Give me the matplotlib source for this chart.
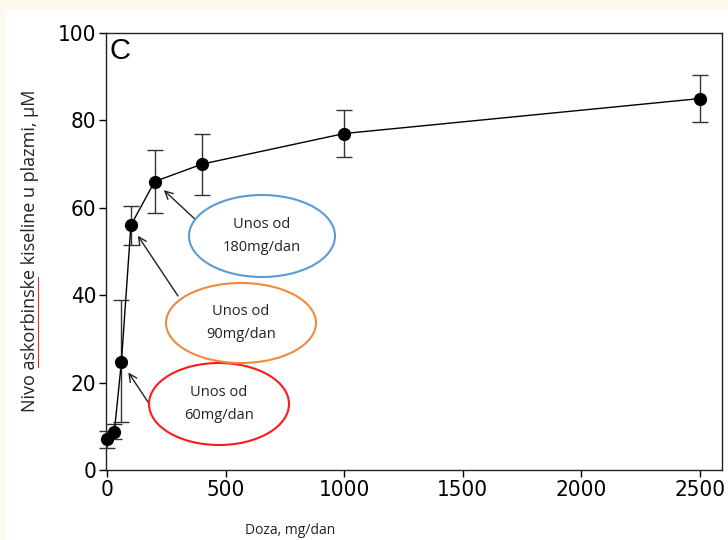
import numpy as np
import matplotlib.pyplot as plt
from matplotlib.patches import Ellipse, Rectangle
from matplotlib.lines import Line2D
from matplotlib import font_manager

# doza (mg/dan) i nivo askorbinske kiseline (uM)
doza = [0, 30, 60, 100, 200, 400, 1000, 2500]
nivo = [7, 8.7, 24.7, 56, 66, 70, 77, 85]
err_gore = [2.0, 1.8, 14.3, 4.4, 7.2, 7.0, 5.4, 5.4]
err_dole = [2.0, 1.5, 13.7, 4.5, 7.2, 7.0, 5.4, 5.4]

xticks = [0, 500, 1000, 1500, 2000, 2500]
yticks = [0, 20, 40, 60, 80, 100]

labele = ['Unos od\n60mg/dan', 'Unos od\n90mg/dan', 'Unos od\n180mg/dan']
boje = ['#ff1a1a', '#ee8a3c', '#5b9bd5']

# uski font za brojeve ako postoji
uski = None
for f in font_manager.fontManager.ttflist:
    n = f.fname.lower()
    if ('narrow' in n or 'condensed' in n) and 'bold' not in n and 'oblique' not in n \
            and 'italic' not in n and ('liberation' in n or 'dejavusans' in n or 'roboto' in n):
        uski = f.fname
        break
print('uski font:', uski)

fig = plt.figure(figsize=(7.28, 5.4), dpi=100, facecolor='#fdf8ec')
# bijela podloga
fig.patches.append(Rectangle((5 / 728, 0), 1, 530 / 540, transform=fig.transFigure,
                             facecolor='white', edgecolor='none', zorder=-5))

ax = fig.add_axes([106 / 728, 70 / 540, 616 / 728, 437 / 540])
ax.set_facecolor('white')

ax.errorbar(doza, nivo, yerr=[err_dole, err_gore], fmt='o-', color='black',
            markersize=8.5, linewidth=1, elinewidth=1, capsize=6, capthick=1,
            ecolor='#333333', clip_on=False, zorder=3)

ax.set_xlim(-5, 2593)
ax.set_ylim(0, 100)
ax.set_xticks(xticks)
ax.set_yticks(yticks)
ax.tick_params(direction='out', length=5, width=1, pad=2, top=False, right=False)
if uski:
    fp = font_manager.FontProperties(fname=uski, size=16)
else:
    fp = font_manager.FontProperties(family='Liberation Sans', size=15)
for lab in ax.get_xticklabels() + ax.get_yticklabels():
    lab.set_fontproperties(fp)
for s in ax.spines.values():
    s.set_linewidth(1)
    s.set_color('#222222')

ax.text(0.005, 0.99, 'C', transform=ax.transAxes, fontsize=21,
        family='Liberation Sans', va='top', ha='left')

fig.text(290 / 728, 1 - 530 / 540, 'Doza, mg/dan', ha='center', va='center',
         fontsize=10, family='Open Sans', color='#222222')
fig.text(30 / 728, 1 - 251 / 540, 'Nivo askorbinske kiseline u plazmi, \u00b5M',
         rotation=90, ha='center', va='center', fontsize=13,
         family='Open Sans', color='#222222')
# crvena linija ispod "askorbinske" (provjera pravopisa)
fig.lines.append(Line2D([38 / 728, 38 / 728], [1 - 367 / 540, 1 - 277 / 540],
                        transform=fig.transFigure, color='#e03030', linewidth=0.8))

# elipse s oznakama (centar u pikselima slike)
elipse = [(219, 404, 140, 82), (241, 323, 150, 80), (262, 236, 146, 82)]
strelice = [((150, 405), 2), ((178, 296), 3), ((197, 221), 4)]
for (cx, cy, w, h), lab, boja, ((sx, sy), i) in zip(elipse, labele, boje, strelice):
    e = Ellipse((cx / 728, 1 - cy / 540), w / 728, h / 540, transform=fig.transFigure,
                facecolor='white', edgecolor=boja, linewidth=1.5, zorder=5)
    fig.patches.append(e)
    fig.text(cx / 728, 1 - cy / 540, lab, ha='center', va='center', fontsize=10.5,
             family='Open Sans', color='#222222', linespacing=1.7, zorder=6)
    ax.annotate('', xy=(doza[i], nivo[i]), xytext=(sx / 728, 1 - sy / 540),
                textcoords='figure fraction',
                arrowprops=dict(arrowstyle='->', color='#222222', lw=1,
                                shrinkA=0, shrinkB=9, mutation_scale=14))

fig.savefig('out.png', dpi=100, facecolor=fig.get_facecolor())
